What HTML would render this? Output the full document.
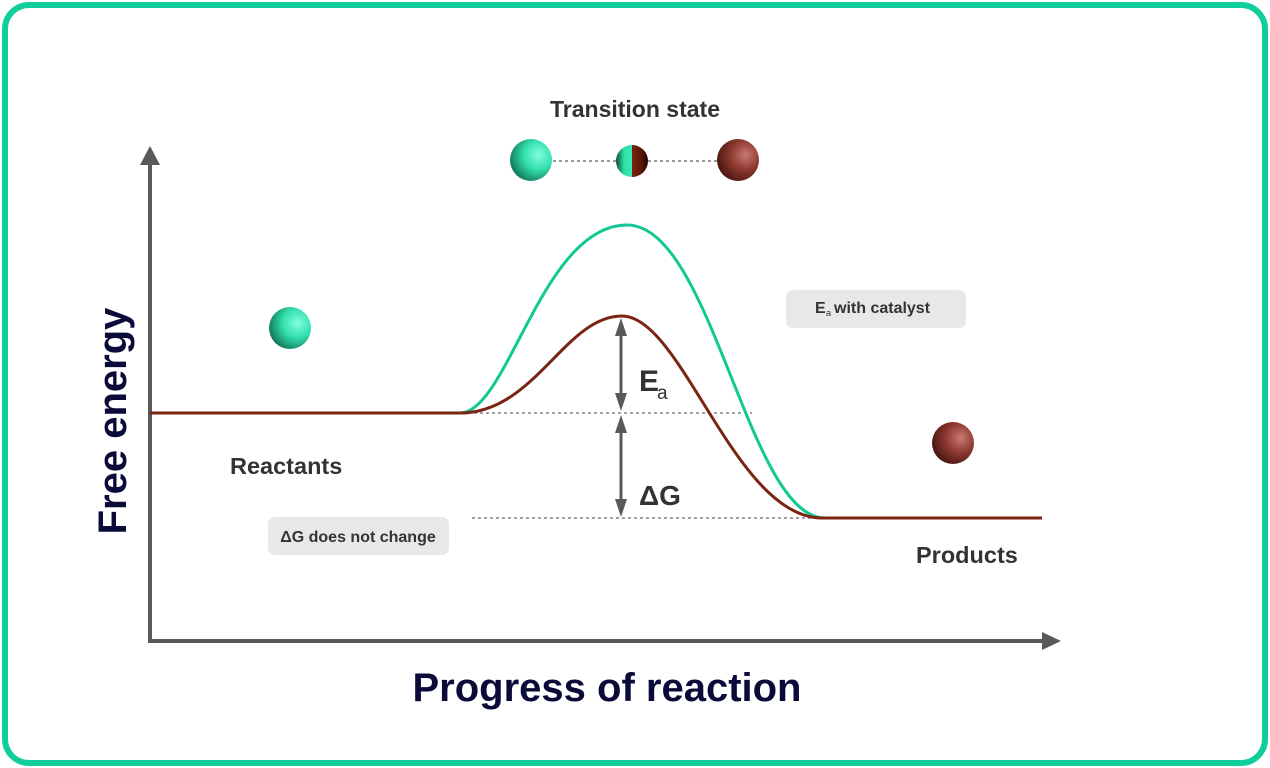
<!DOCTYPE html>
<html><head><meta charset="utf-8"><style>
html,body{margin:0;padding:0;background:#fff;}
svg{display:block;}
text{font-family:"Liberation Sans","DejaVu Sans",sans-serif;}
</style></head><body>
<svg width="1270" height="768" viewBox="0 0 1270 768" xmlns="http://www.w3.org/2000/svg">
<defs>
<radialGradient id="gg" cx="0.68" cy="0.38" r="0.7">
<stop offset="0" stop-color="#7fffdc"/><stop offset="0.5" stop-color="#33dfad"/><stop offset="1" stop-color="#137a5c"/></radialGradient>
<radialGradient id="bg" cx="0.68" cy="0.38" r="0.7">
<stop offset="0" stop-color="#c97a72"/><stop offset="0.5" stop-color="#8e3a30"/><stop offset="1" stop-color="#4a1610"/></radialGradient>
<linearGradient id="mg" x1="0" x2="1" y1="0" y2="0">
<stop offset="0" stop-color="#0c4a38"/><stop offset="0.25" stop-color="#2be0aa"/><stop offset="0.5" stop-color="#3de8b4"/><stop offset="0.5" stop-color="#7a2412"/><stop offset="0.8" stop-color="#5a1508"/><stop offset="1" stop-color="#1a0502"/></linearGradient>
</defs>
<rect x="5" y="5" width="1260" height="758" rx="24" fill="#fff" stroke="#0fce9a" stroke-width="6"/>
<line x1="150" y1="641" x2="150" y2="162" stroke="#595959" stroke-width="4"/>
<polygon points="150,146 140,165 160,165" fill="#595959"/>
<line x1="148" y1="641" x2="1045" y2="641" stroke="#595959" stroke-width="4"/>
<polygon points="1061,641 1042,632 1042,650" fill="#595959"/>
<line x1="462" y1="413" x2="752" y2="413" stroke="#444" stroke-width="1" stroke-dasharray="3,3"/>
<line x1="472" y1="518" x2="822" y2="518" stroke="#444" stroke-width="1" stroke-dasharray="3,3"/>
<path d="M460,413 C508,413 542,225 627,225 C712,225 748,518 825,518" fill="none" stroke="#12c995" stroke-width="3"/>
<path d="M150,413 L460,413 C535,413 565,316 622,316 C682,316 735,518 822,518 L1042,518" fill="none" stroke="#7a2412" stroke-width="3"/>
<line x1="621" y1="330" x2="621" y2="400" stroke="#5a5a5a" stroke-width="3"/>
<polygon points="621,318 615,336 627,336" fill="#5a5a5a"/>
<polygon points="621,411 615,393 627,393" fill="#5a5a5a"/>
<line x1="621" y1="428" x2="621" y2="505" stroke="#5a5a5a" stroke-width="3"/>
<polygon points="621,415 615,433 627,433" fill="#5a5a5a"/>
<polygon points="621,517 615,499 627,499" fill="#5a5a5a"/>
<text x="639" y="391" font-size="30" font-weight="bold" fill="#333">E</text>
<text x="657" y="399" font-size="19" fill="#333">a</text>
<text x="639" y="505" font-size="28" font-weight="bold" fill="#333">ΔG</text>
<rect x="786" y="290" width="180" height="38" rx="7" fill="#e8e8e8"/>
<text x="815" y="313" font-size="16" font-weight="bold" fill="#333">E</text><text x="826" y="316" font-size="9" fill="#333">a</text><text x="834" y="313" font-size="16" font-weight="bold" fill="#333">with catalyst</text>
<rect x="268" y="517" width="181" height="38" rx="7" fill="#e8e8e8"/>
<text x="358" y="542" font-size="16" font-weight="bold" fill="#333" text-anchor="middle">ΔG does not change</text>
<text x="230" y="474" font-size="23.5" font-weight="bold" fill="#333">Reactants</text>
<text x="916" y="563" font-size="23.5" font-weight="bold" fill="#333">Products</text>
<text x="635" y="117" font-size="23" font-weight="bold" fill="#333" text-anchor="middle">Transition state</text>
<text transform="translate(126,421) rotate(-90)" font-size="40" font-weight="bold" fill="#0b0b3a" text-anchor="middle">Free energy</text>
<text x="607" y="701" font-size="40" font-weight="bold" fill="#0b0b3a" text-anchor="middle">Progress of reaction</text>
<line x1="553" y1="161" x2="616" y2="161" stroke="#333" stroke-width="1" stroke-dasharray="3,3"/>
<line x1="648" y1="161" x2="717" y2="161" stroke="#333" stroke-width="1" stroke-dasharray="3,3"/>
<circle cx="531" cy="160" r="21" fill="url(#gg)"/>
<circle cx="632" cy="161" r="16" fill="url(#mg)"/>
<circle cx="738" cy="160" r="21" fill="url(#bg)"/>
<circle cx="290" cy="328" r="21" fill="url(#gg)"/>
<circle cx="953" cy="443" r="21" fill="url(#bg)"/>
</svg>
</body></html>
